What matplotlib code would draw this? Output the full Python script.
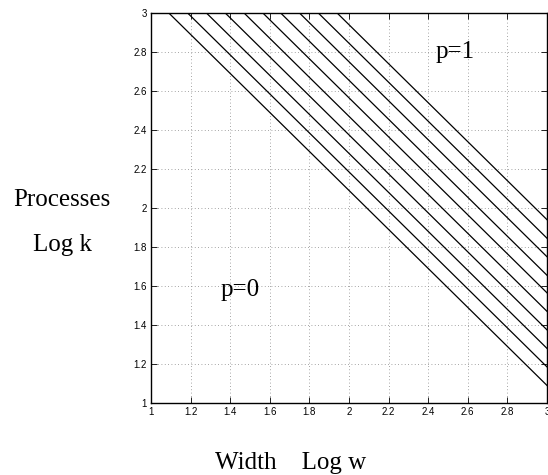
import matplotlib
matplotlib.use("Agg")
import matplotlib.pyplot as plt
import numpy as np

# Data: contour lines x + y = c (log w + log k = c)
line_levels = [4.09, 4.185, 4.28, 4.375, 4.47, 4.565, 4.655, 4.75, 4.845, 4.94]
x_ticks = [1, 1.2, 1.4, 1.6, 1.8, 2, 2.2, 2.4, 2.6, 2.8, 3]
y_ticks = [1, 1.2, 1.4, 1.6, 1.8, 2, 2.2, 2.4, 2.6, 2.8, 3]
x_tick_labels = ["1", "1.2", "1.4", "1.6", "1.8", "2", "2.2", "2.4", "2.6", "2.8", "3"]
y_tick_labels = ["1", "1.2", "1.4", "1.6", "1.8", "2", "2.2", "2.4", "2.6", "2.8", "3"]

fig = plt.figure(figsize=(5.48, 4.75), dpi=100)
ax = fig.add_axes([151/548, 1-403/475, (547-151)/548, (403-13)/475])

xs = np.linspace(1, 3, 200)
for c in line_levels:
    ys = c - xs
    ax.plot(xs, ys, color="black", lw=0.9)

ax.set_xlim(1, 3)
ax.set_ylim(1, 3)
ax.set_xticks(x_ticks)
ax.set_xticklabels(x_tick_labels)
ax.set_yticks(y_ticks)
ax.set_yticklabels(y_tick_labels)
for lab in ax.get_xticklabels() + ax.get_yticklabels():
    lab.set_fontfamily("Liberation Sans")
    lab.set_fontsize(7)
ax.tick_params(direction="in", length=4, width=0.6, top=True, right=True, pad=3)
ax.grid(True, linestyle=(0, (1, 3)), color="#888888", lw=0.6)
for s in ax.spines.values():
    s.set_linewidth(1.0)

ax.text(2.535, 2.8, "p=1", fontsize=18, family="Liberation Serif", ha="center", va="center")
ax.text(1.45, 1.58, "p=0", fontsize=18, family="Liberation Serif", ha="center", va="center")

fig.text(62/548, 1-200/475, "Processes", fontsize=18, family="Liberation Serif", ha="center", va="center")
fig.text(62/548, 1-245/475, "Log k", fontsize=18, family="Liberation Serif", ha="center", va="center")
fig.text(291/548, 1-463/475, "Width    Log w", fontsize=18, family="Liberation Serif", ha="center", va="center")

fig.savefig("out.png", dpi=100)
